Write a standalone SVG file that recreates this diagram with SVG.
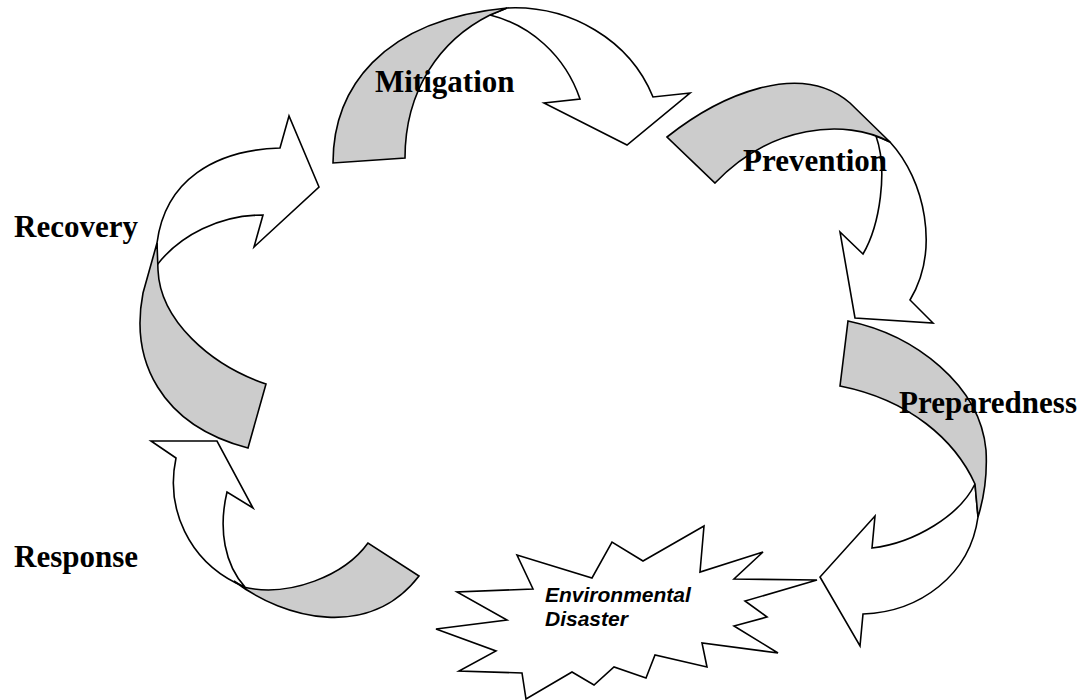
<svg xmlns="http://www.w3.org/2000/svg" width="1085" height="700" viewBox="0 0 1085 700">
<style>
.w{fill:#ffffff;stroke:#000;stroke-width:1.6;stroke-linejoin:miter}
.g{fill:#cccccc;stroke:#000;stroke-width:1.6;stroke-linejoin:miter}
.lbl{font-family:"Liberation Serif","Times New Roman",serif;font-weight:bold;font-size:31px;fill:#000}
.st{font-family:"Liberation Sans",Arial,sans-serif;font-weight:bold;font-style:italic;font-size:21px;fill:#000}
</style>
<rect width="1085" height="700" fill="#ffffff"/>
<g id="connectors">
  <g id="arrow-mitigation">
    <path class="w" d="M507,8 C570,5 630,40 653,97 L690,93 L627,145 L544,103 L580,99 C565,55 530,25 490,15 Z"/>
    <path class="g" d="M333,163 C333,90 380,20 507,8 L490,15 C440,40 405,90 405,158 Z"/>
  </g>
  <g id="arrow-prevention">
    <path class="w" d="M890,142 C925,180 940,250 910,300 L933,323 L855,318 L840,232 L863,254 C880,225 888,170 876,136 Z"/>
    <path class="g" d="M667,137 C720,95 800,60 850,103 L890,142 C845,118 770,125 715,183 Z"/>
  </g>
  <g id="arrow-preparedness">
    <path class="w" d="M978,517 C970,575 920,612 863,614 L860,646 L820,577 L875,516 L872,548 C915,543 960,515 975,484 Z"/>
    <path class="g" d="M848,321 C915,335 980,385 986,450 Q988,485 978,517 L975,484 C955,440 910,400 840,386 Z"/>
  </g>
  <g id="arrow-response">
    <path class="w" d="M176,458 L151,441 L217,441 L253,508 L227,492 C218,530 225,565 245,587 L236,583 C190,560 165,510 176,458 Z"/>
    <path class="g" d="M368,543 C345,575 290,598 243,587 L234,581 C285,620 370,640 419,576 Z"/>
  </g>
  <g id="arrow-recovery">
    <path class="w" d="M157,243 C165,180 215,150 280,148 L289,116 L319,187 L254,247 L263,215 C220,215 180,235 157,265 Z"/>
    <path class="g" d="M157,243 L143,293 C130,360 160,425 248,448 L266,384 C210,365 160,320 158,270 Z"/>
  </g>
</g>
<g id="disaster">
  <polygon class="w" points="436,629 507,620 457,592 533,589 517,555 592,578 612,542 643,561 704,526 700,572 763,552 734,579 817,580 745,601 767,617 734,626 778,653 702,643 707,667 655,655 646,678 614,667 594,685 572,672 526,699 522,673 459,671 496,651"/>
  <text class="st" x="545" y="602">Environmental</text>
  <text class="st" x="545" y="626">Disaster</text>
</g>
<g id="mitigation"><text class="lbl" x="375" y="92">Mitigation</text></g>
<g id="prevention"><text class="lbl" x="743" y="171">Prevention</text></g>
<g id="preparedness"><text class="lbl" x="899" y="413">Preparedness</text></g>
<g id="recovery"><text class="lbl" x="14" y="237">Recovery</text></g>
<g id="response"><text class="lbl" x="14" y="567">Response</text></g>
</svg>
